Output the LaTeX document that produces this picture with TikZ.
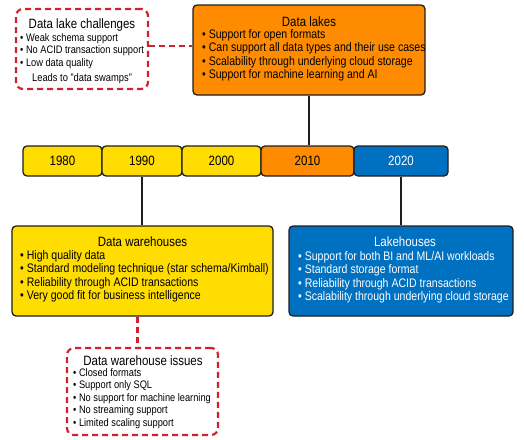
\documentclass[tikz,border=0pt]{standalone}
\usepackage{fontspec}
\setmainfont{Liberation Sans}[FakeStretch=0.85]
\definecolor{ylw}{HTML}{FFDD00}
\definecolor{org}{HTML}{FF8C00}
\definecolor{blu}{HTML}{0070C0}
\definecolor{rd}{HTML}{D3202F}
\definecolor{edge}{HTML}{1E1E1E}
\tikzset{
  box/.style={draw=edge, line width=1.3pt, rounded corners=4pt, inner sep=0pt},
  dbox/.style={draw=rd, line width=2.2pt, dash pattern=on 6pt off 4pt, rounded corners=7pt, inner sep=0pt},
  dline/.style={draw=rd, line width=2.2pt, dash pattern=on 6pt off 4pt},
  tline/.style={draw=edge, line width=1.5pt},
  yearbox/.style={box, minimum height=30pt, font=\fontsize{13.5}{15}\selectfont},
  ttl/.style={inner sep=0pt, anchor=base, font=\fontsize{13.5}{15}\selectfont},
  blist/.style={align=left, inner sep=0pt, anchor=base west, font=\fontsize{12.4}{13.4}\selectfont},
  slist/.style={align=left, inner sep=0pt, anchor=base west, font=\fontsize{10.9}{12.4}\selectfont},
}
\begin{document}
\begin{tikzpicture}[x=1pt,y=-1pt]
\useasboundingbox (0,0) rectangle (524,439);
% boxes
\node[dbox, minimum width=132pt, minimum height=80pt] (chal) at (82,49) {};
\node[box, fill=org, minimum width=232pt, minimum height=90pt] (lakes) at (309,50) {};
\node[box, fill=ylw, minimum width=261pt, minimum height=90pt] (wh) at (142.5,271) {};
\node[box, fill=blu, minimum width=224pt, minimum height=90pt] (lh) at (401,271) {};
\node[dbox, minimum width=151pt, minimum height=87pt] (iss) at (142.5,391.5) {};
% timeline
\node[yearbox, fill=ylw, minimum width=79pt] (y1980) at (62.5,161) {1980};
\node[yearbox, fill=ylw, minimum width=80pt] (y1990) at (142,161) {1990};
\node[yearbox, fill=ylw, minimum width=79pt] (y2000) at (221.5,161) {2000};
\node[yearbox, fill=org, minimum width=93pt] (y2010) at (307.5,161) {2010};
\node[yearbox, fill=blu, text=white, minimum width=94pt] (y2020) at (401,161) {2020};
% connectors
\draw[tline] (lakes.south) -- (lakes.south |- y2010.north);
\draw[tline] (y1990.south) -- (y1990.south |- wh.north);
\draw[tline] (y2020.south) -- (y2020.south |- lh.north);
\draw[dline] ([yshift=3pt]chal.east) -- ([yshift=3pt]chal.east -| lakes.west);
\draw[dline] ([xshift=-5pt]wh.south) -- ([xshift=-5pt]wh.south |- iss.north);
% texts
\node[ttl] (chalt) at (82,28) {Data lake challenges};
\node[slist] (chall) at (20,66.3) {• Weak schema support\\• No ACID transaction support\\• Low data quality};
\node[ttl, font=\fontsize{11}{13}\selectfont] (chalf) at (82,81) {Leads to "data swamps"};
\node[ttl] (lakest) at (309,26) {Data lakes};
\node[blist] (lakesl) at (202,78.7) {• Support for open formats\\• Can support all data types and their use cases\\• Scalability through underlying cloud storage\\• Support for machine learning and AI};
\node[ttl] (wht) at (142.5,246) {Data warehouses};
\node[blist] (whl) at (20,299.7) {• High quality data\\• Standard modeling technique (star schema/Kimball)\\• Reliability through ACID transactions\\• Very good fit for business intelligence};
\node[ttl, text=white] (lht) at (405,246) {Lakehouses};
\node[blist, text=white] (lhl) at (298,300.5) {• Support for both BI and ML/AI workloads\\• Standard storage format\\• Reliability through ACID transactions\\• Scalability through underlying cloud storage};
\node[ttl] (isst) at (143,365) {Data warehouse issues};
\node[slist] (issl) at (73,426) {• Closed formats\\• Support only SQL\\• No support for machine learning\\• No streaming support\\• Limited scaling support};
\end{tikzpicture}
\end{document}
